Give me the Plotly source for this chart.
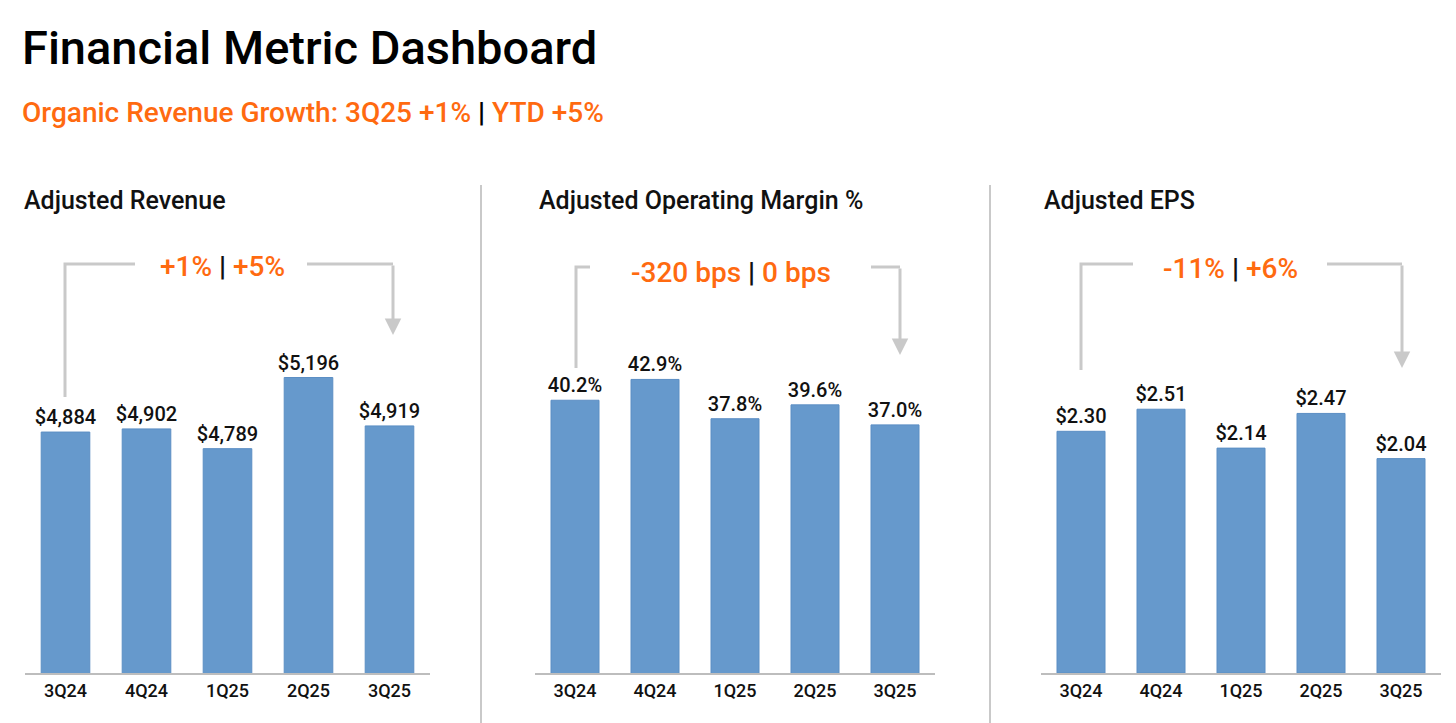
import plotly.graph_objects as go

W, H = 1456, 723

quarters = ["3Q24", "4Q24", "1Q25", "2Q25", "3Q25"]
revenue = [4884, 4902, 4789, 5196, 4919]
op_margin = [40.2, 42.9, 37.8, 39.6, 37.0]
eps = [2.30, 2.51, 2.14, 2.47, 2.04]

revenue_text = ["${:,.0f}".format(v) for v in revenue]
margin_text = ["{:.1f}%".format(v) for v in op_margin]
eps_text = ["${:.2f}".format(v) for v in eps]

panel_titles = ["Adjusted Revenue", "Adjusted Operating Margin %", "Adjusted EPS"]
growth_qtr = ["+1%", "-320 bps", "-11%"]
growth_ytd = ["+5%", "0 bps", "+6%"]

ORANGE = "#ff6a10"
BAR = "#6699cc"
GREY = "#c9c9c9"
FONT = "Roboto"


def px_x(x):
    return x / W


def px_y(y):
    return 1 - y / H


# pixel layout of each panel: axis left/right, y range
panels = [
    dict(x0=25, x1=430, yr=[3506, 5868], title_x=22),
    dict(x0=535, x1=935, yr=[4.8, 58.4], title_x=537),
    dict(x0=1041, x1=1441, yr=[0, 3.93], title_x=1042),
]
# bracket geometry in pixels: left x, left bottom, top y, gap start, gap end, right x, arrow tip, label centre
brackets = [
    dict(lx=65, lb=397, top=264, g0=135, g1=307, rx=393, tip=335, tx=222, ty=266),
    dict(lx=576, lb=368, top=267, g0=590, g1=871, rx=900, tip=355, tx=731, ty=272),
    dict(lx=1081, lb=370, top=264, g0=1133, g1=1327, rx=1402, tip=368, tx=1230, ty=268),
]

series = [(revenue, revenue_text), (op_margin, margin_text), (eps, eps_text)]

fig = go.Figure()
shapes = []
annotations = []
y_dom = [px_y(673), px_y(260)]

for i, (vals, txt) in enumerate(series):
    n = "" if i == 0 else str(i + 1)
    p = panels[i]
    fig.add_trace(go.Bar(x=quarters, y=vals, text=txt,
                         textposition="outside", constraintext="none",
                         textfont=dict(size=20, color="#111111", family=FONT, weight=500),
                         cliponaxis=False,
                         marker=dict(color=BAR, line=dict(color="#5b8ec4", width=1)),
                         xaxis="x" + n, yaxis="y" + n,
                         showlegend=False))
    fig.layout["xaxis" + n] = dict(domain=[px_x(p["x0"]), px_x(p["x1"])],
                                   anchor="y" + n, showline=True, linecolor="#bdbdbd",
                                   linewidth=2, ticks="", showgrid=False,
                                   tickfont=dict(size=18, color="#111111", family=FONT, weight=500),
                                   fixedrange=True)
    fig.layout["yaxis" + n] = dict(domain=y_dom, anchor="x" + n, range=p["yr"],
                                   visible=False, fixedrange=True)

    annotations.append(dict(x=px_x(p["title_x"]), y=px_y(200), xref="paper", yref="paper",
                            xanchor="left", yanchor="middle", showarrow=False,
                            text=panel_titles[i],
                            font=dict(size=25, color="#111111", family=FONT, weight=500)))

    b = brackets[i]
    line = dict(color=GREY, width=3)
    shapes.append(dict(type="path", xref="paper", yref="paper", line=line,
                       path="M {} {} L {} {} L {} {}".format(
                           px_x(b["lx"]), px_y(b["lb"]), px_x(b["lx"]), px_y(b["top"]),
                           px_x(b["g0"]), px_y(b["top"]))))
    shapes.append(dict(type="line", xref="paper", yref="paper", line=line,
                       x0=px_x(b["g1"]), y0=px_y(b["top"]), x1=px_x(b["rx"]), y1=px_y(b["top"])))
    annotations.append(dict(x=px_x(b["rx"]), y=px_y(b["tip"]), xref="paper", yref="paper",
                            ax=0, ay=-(b["tip"] - b["top"]), showarrow=True, text="",
                            arrowhead=2, arrowsize=1.1, arrowwidth=3, arrowcolor=GREY))
    annotations.append(dict(x=px_x(b["tx"]), y=px_y(b["ty"]), xref="paper", yref="paper",
                            showarrow=False, xanchor="center", yanchor="middle",
                            text="<span style='color:{0}'>{1}</span> <b>|</b> <span style='color:{0}'>{2}</span>".format(
                                ORANGE, growth_qtr[i], growth_ytd[i]),
                            font=dict(size=28, color="#111111", family=FONT, weight=500)))

# panel dividers
for xd in [481, 990]:
    shapes.append(dict(type="line", xref="paper", yref="paper",
                       x0=px_x(xd), x1=px_x(xd), y0=px_y(185), y1=0,
                       line=dict(color=GREY, width=2)))

annotations.append(dict(x=px_x(20), y=px_y(48), xref="paper", yref="paper",
                        xanchor="left", yanchor="middle", showarrow=False,
                        text="Financial Metric Dashboard",
                        font=dict(size=47, color="#000000", family=FONT, weight=500)))
annotations.append(dict(x=px_x(20), y=px_y(112), xref="paper", yref="paper",
                        xanchor="left", yanchor="middle", showarrow=False,
                        text="<span style='color:{0}'>Organic Revenue Growth: 3Q25 +1%</span> <b>|</b> "
                             "<span style='color:{0}'>YTD +5%</span>".format(ORANGE),
                        font=dict(size=28, color="#000000", family=FONT, weight=500)))

fig.update_layout(width=W, height=H, margin=dict(l=0, r=0, t=0, b=0),
                  paper_bgcolor="white", plot_bgcolor="white",
                  bargap=0.4, shapes=shapes, annotations=annotations,
                  font=dict(family=FONT))

fig.write_html("out.html", config=dict(displayModeBar=False),
               post_script="document.body.style.margin='0';")
